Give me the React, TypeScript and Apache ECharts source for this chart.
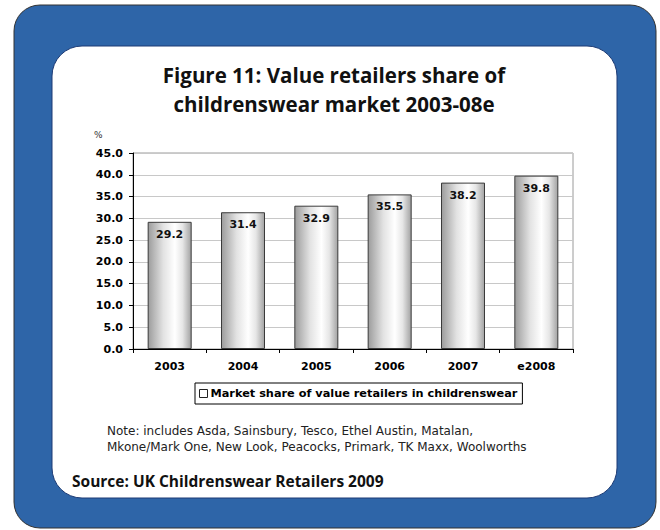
import React, { useEffect, useRef } from "react";
import * as echarts from "echarts";

const categories = ["2003", "2004", "2005", "2006", "2007", "e2008"];
const shareValues = [29.2, 31.4, 32.9, 35.5, 38.2, 39.8];
const seriesName = "Market share of value retailers in childrenswear";
const titleLines = ["Figure 11: Value retailers share of", "childrenswear market 2003-08e"];
const noteLines = [
  "Note: includes Asda, Sainsbury, Tesco, Ethel Austin, Matalan,",
  "Mkone/Mark One, New Look, Peacocks, Primark, TK Maxx, Woolworths",
];
const sourceText = "Source: UK Childrenswear Retailers 2009";
const unitLabel = "%";

export default function App() {
  const ref = useRef<HTMLDivElement>(null);
  useEffect(() => {
    if (!ref.current) return;
    const chart = echarts.init(ref.current, null, { renderer: "svg" });
    const labelFont = "'DejaVu Sans', sans-serif";
    const humanist = "'Open Sans', Lato, sans-serif";
    const barGradient = new echarts.graphic.LinearGradient(0, 0, 1, 0, [
      { offset: 0, color: "#9c9c9c" },
      { offset: 0.35, color: "#e2e2e2" },
      { offset: 0.62, color: "#ffffff" },
      { offset: 0.8, color: "#e6e6e6" },
      { offset: 1, color: "#a2a2a2" },
    ]);
    chart.setOption({
      animation: false,
      backgroundColor: "#ffffff",
      graphic: [
        {
          type: "rect",
          z: -10,
          shape: { x: 14, y: 5, width: 642, height: 523, r: 26 },
          style: { fill: "#2e65a8", stroke: "#333333", lineWidth: 1 },
          silent: true,
        },
        {
          type: "rect",
          z: -9,
          shape: { x: 52, y: 46, width: 565, height: 452, r: 30 },
          style: { fill: "#ffffff", stroke: "#1c3a74", lineWidth: 1 },
          silent: true,
        },
        {
          type: "text",
          x: 334,
          y: 75,
          style: {
            text: titleLines[0],
            fontFamily: humanist,
            fontWeight: "bold",
            fontSize: 20.5,
            fill: "#111111",
            align: "center",
            verticalAlign: "middle",
          },
        },
        {
          type: "text",
          x: 334,
          y: 104,
          style: {
            text: titleLines[1],
            fontFamily: humanist,
            fontWeight: "bold",
            fontSize: 20.5,
            fill: "#111111",
            align: "center",
            verticalAlign: "middle",
          },
        },
        {
          type: "text",
          x: 94,
          y: 135,
          style: {
            text: unitLabel,
            fontFamily: labelFont,
            fontSize: 9,
            fill: "#333333",
            verticalAlign: "middle",
          },
        },
        {
          type: "text",
          x: 107,
          y: 431,
          style: {
            text: noteLines[0],
            fontFamily: labelFont,
            fontSize: 12,
            fill: "#222222",
            verticalAlign: "middle",
          },
        },
        {
          type: "text",
          x: 107,
          y: 447,
          style: {
            text: noteLines[1],
            fontFamily: labelFont,
            fontSize: 12,
            fill: "#222222",
            verticalAlign: "middle",
          },
        },
        {
          type: "text",
          x: 72,
          y: 481,
          style: {
            text: sourceText,
            fontFamily: humanist,
            fontWeight: "bold",
            fontSize: 15.5,
            fill: "#111111",
            verticalAlign: "middle",
          },
        },
      ],
      grid: {
        left: 133,
        top: 153,
        right: 87,
        bottom: 181,
        show: true,
        borderColor: "#9a9a9a",
        borderWidth: 1,
        backgroundColor: "transparent",
      },
      legend: {
        left: 195,
        top: 383,
        padding: [5, 5, 5, 4],
        borderColor: "#000000",
        borderWidth: 1,
        itemWidth: 8,
        itemHeight: 8,
        itemGap: 4,
        icon: "rect",
        itemStyle: { color: "#ffffff", borderColor: "#222222", borderWidth: 1 },
        textStyle: {
          fontFamily: labelFont,
          fontWeight: "bold",
          fontSize: 11.3,
          color: "#000000",
          padding: [0, 0, 0, -2],
        },
        data: [seriesName],
      },
      xAxis: {
        type: "category",
        data: categories,
        axisLine: { show: true, lineStyle: { color: "#000000", width: 1 } },
        axisTick: { show: true, length: 4, lineStyle: { color: "#000000" } },
        axisLabel: {
          fontFamily: labelFont,
          fontWeight: "bold",
          fontSize: 11,
          color: "#000000",
          margin: 12,
        },
      },
      yAxis: {
        type: "value",
        min: 0,
        max: 45,
        interval: 5,
        axisLine: { show: true, lineStyle: { color: "#000000", width: 1 } },
        axisTick: { show: true, length: 4, lineStyle: { color: "#000000" } },
        axisLabel: {
          fontFamily: labelFont,
          fontWeight: "bold",
          fontSize: 11,
          color: "#000000",
          margin: 10,
          formatter: (v: number) => v.toFixed(1),
        },
        splitLine: { show: true, lineStyle: { color: "#c8c8c8", width: 1 } },
      },
      series: [
        {
          name: seriesName,
          type: "bar",
          data: shareValues,
          barWidth: "60%",
          itemStyle: {
            color: barGradient,
            borderColor: "#3a3a3a",
            borderWidth: 1,
          },
          label: {
            show: true,
            position: "insideTop",
            distance: 7,
            fontFamily: labelFont,
            fontWeight: "bold",
            fontSize: 11,
            color: "#111111",
            formatter: (p: any) => Number(p.value).toFixed(1),
          },
        },
      ],
    });
    return () => chart.dispose();
  }, []);
  return (
    <div
      ref={ref}
      style={{ position: "fixed", left: 0, top: 0, width: 660, height: 530 }}
    />
  );
}
